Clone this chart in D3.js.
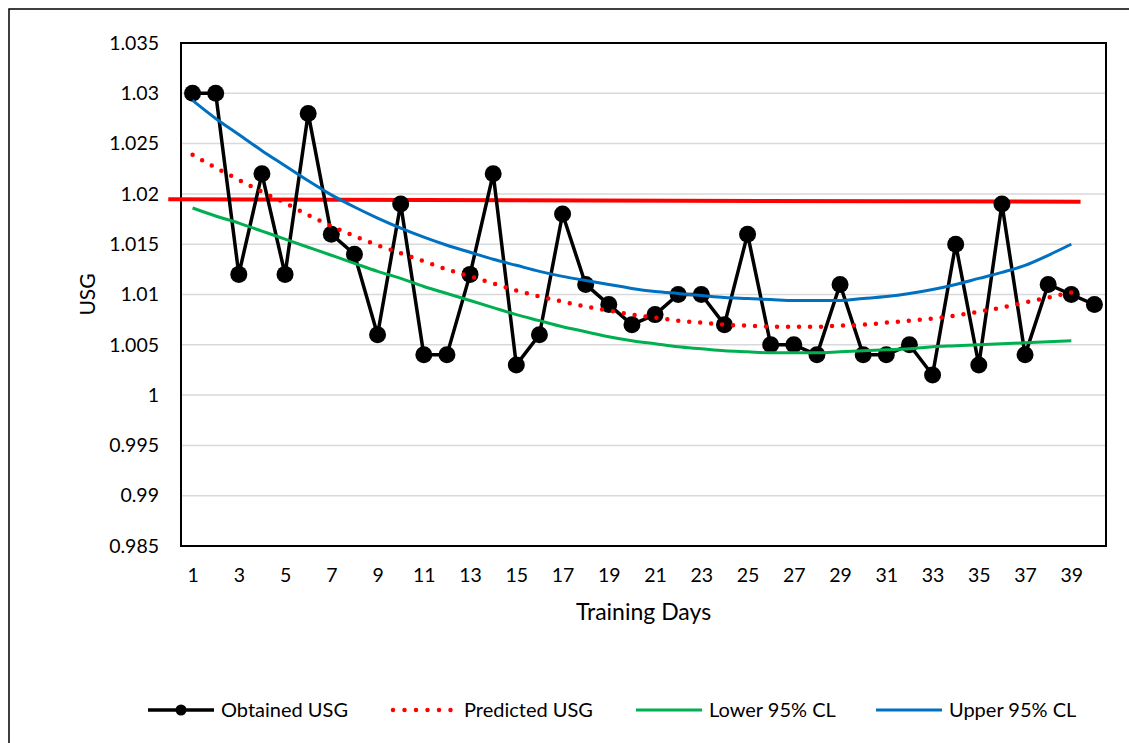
<!DOCTYPE html>
<html lang="en">
<head>
    <meta charset="UTF-8">
    <title>USG over Training Days</title>
    <style>
        body { margin: 0; background: #fff; }
        svg { display: block; font-family: Lato, "Open Sans", sans-serif; }
    </style>
</head>
<body>
    <div id="chart"></div>

    <script src="https://d3js.org/d3.v7.min.js"></script>
    <script>
        // values
        const days = d3.range(1, 41);
        const obtained = [1.030, 1.030, 1.012, 1.022, 1.012, 1.028, 1.016, 1.014, 1.006, 1.019,
                          1.004, 1.004, 1.012, 1.022, 1.003, 1.006, 1.018, 1.011, 1.009, 1.007,
                          1.008, 1.010, 1.010, 1.007, 1.016, 1.005, 1.005, 1.004, 1.011, 1.004,
                          1.004, 1.005, 1.002, 1.015, 1.003, 1.019, 1.004, 1.011, 1.010, 1.009];
        const predicted = [1.0239, 1.0226, 1.0214, 1.0202, 1.0191, 1.0179, 1.0168, 1.0158, 1.0149, 1.0141,
                           1.0133, 1.0125, 1.0118, 1.0111, 1.0104, 1.0098, 1.0093, 1.0088, 1.0084, 1.0080,
                           1.0077, 1.0074, 1.0072, 1.0070, 1.0069, 1.0068, 1.0068, 1.0068, 1.0069, 1.0070,
                           1.0072, 1.0074, 1.0076, 1.0079, 1.0083, 1.0087, 1.0092, 1.0097, 1.0102];
        const lowerCL = [1.0186, 1.0178, 1.0171, 1.0163, 1.0155, 1.0147, 1.0139, 1.0131, 1.0123, 1.0116,
                         1.0108, 1.0101, 1.0094, 1.0087, 1.0080, 1.0074, 1.0068, 1.0063, 1.0058, 1.0054,
                         1.0051, 1.0048, 1.0046, 1.0044, 1.0043, 1.0042, 1.0042, 1.0042, 1.0043, 1.0044,
                         1.0045, 1.0046, 1.0048, 1.0049, 1.0050, 1.0051, 1.0052, 1.0053, 1.0054];
        const upperCL = [1.0293, 1.0275, 1.0259, 1.0243, 1.0228, 1.0213, 1.0199, 1.0187, 1.0176, 1.0166,
                         1.0157, 1.0149, 1.0142, 1.0135, 1.0129, 1.0123, 1.0118, 1.0114, 1.0110, 1.0106,
                         1.0103, 1.0101, 1.0099, 1.0097, 1.0096, 1.0095, 1.0094, 1.0094, 1.0094, 1.0096,
                         1.0098, 1.0101, 1.0105, 1.0110, 1.0116, 1.0122, 1.0129, 1.0139, 1.0150];
        // the flat red reference line (its two ends)
        const limitDays = [-0.05, 39.4];
        const limitUSG = [1.01946, 1.01922];

        const yTicks = [0.985, 0.99, 0.995, 1, 1.005, 1.01, 1.015, 1.02, 1.025, 1.03, 1.035];
        const xTicks = d3.range(1, 41, 2);
        const seriesNames = ['Obtained USG', 'Predicted USG', 'Lower 95% CL', 'Upper 95% CL'];

        const w = 1129;
        const h = 743;
        const plot = {left: 181, top: 43, right: 1106, bottom: 546};
        const RED = '#ff0000', GREEN = '#00b050', BLUE = '#0070c0';

        const svg = d3.select('#chart')
            .append('svg')
            .attr('width', w)
            .attr('height', h);

        // outer chart frame
        svg.append('rect')
            .attr('x', 9).attr('y', 9)
            .attr('width', w + 20).attr('height', h + 20)
            .attr('fill', '#fff')
            .attr('stroke', '#000')
            .attr('stroke-width', 1.5);

        const xScale = d3.scaleLinear()
            .domain([0.5, 40.5])
            .range([plot.left, plot.right]);
        const yScale = d3.scaleLinear()
            .domain([0.985, 1.035])
            .range([plot.bottom, plot.top]);

        // gridlines
        svg.append('g')
            .selectAll('line')
            .data(yTicks.slice(1))
            .enter()
            .append('line')
            .attr('x1', plot.left)
            .attr('x2', plot.right)
            .attr('y1', d => yScale(d))
            .attr('y2', d => yScale(d))
            .attr('stroke', '#d9d9d9')
            .attr('stroke-width', 1.5);

        const yAxis = d3.axisLeft(yScale)
            .tickValues(yTicks)
            .tickFormat(d => String(+d.toFixed(3)))
            .tickSize(0)
            .tickPadding(22);
        const xAxis = d3.axisBottom(xScale)
            .tickValues(xTicks)
            .tickFormat(d3.format('d'))
            .tickSize(0)
            .tickPadding(22);

        const gy = svg.append('g')
            .attr('transform', `translate(${plot.left},0)`)
            .call(yAxis);
        const gx = svg.append('g')
            .attr('transform', `translate(0,${plot.bottom})`)
            .call(xAxis);
        [gx, gy].forEach(g => {
            g.select('.domain').remove();
            g.selectAll('text')
                .attr('fill', '#000')
                .style('font-size', '19.5px')
                .style('font-family', 'Lato, sans-serif');
        });

        // plot area border
        svg.append('rect')
            .attr('x', plot.left).attr('y', plot.top)
            .attr('width', plot.right - plot.left)
            .attr('height', plot.bottom - plot.top)
            .attr('fill', 'none')
            .attr('stroke', '#000')
            .attr('stroke-width', 2);

        // axis titles
        svg.append('text')
            .attr('x', (plot.left + plot.right) / 2)
            .attr('y', 620)
            .attr('text-anchor', 'middle')
            .style('font-size', '23px')
            .text('Training Days');
        svg.append('text')
            .attr('transform', `translate(95,${(plot.top + plot.bottom) / 2}) rotate(-90)`)
            .attr('text-anchor', 'middle')
            .style('font-size', '21px')
            .text('USG');

        // red reference line
        svg.append('line')
            .attr('x1', xScale(limitDays[0])).attr('y1', yScale(limitUSG[0]))
            .attr('x2', xScale(limitDays[1])).attr('y2', yScale(limitUSG[1]))
            .attr('stroke', RED)
            .attr('stroke-width', 4);

        // obtained series
        const straight = d3.line()
            .x((d, i) => xScale(days[i]))
            .y(d => yScale(d));
        const smooth = d3.line()
            .x((d, i) => xScale(days[i]))
            .y(d => yScale(d))
            .curve(d3.curveMonotoneX);

        svg.append('path')
            .attr('d', straight(obtained))
            .attr('fill', 'none')
            .attr('stroke', '#000')
            .attr('stroke-width', 3.5)
            .attr('stroke-linejoin', 'round');
        svg.append('g')
            .selectAll('circle')
            .data(obtained)
            .enter()
            .append('circle')
            .attr('cx', (d, i) => xScale(days[i]))
            .attr('cy', d => yScale(d))
            .attr('r', 8.5)
            .attr('fill', '#000');

        svg.append('path')
            .attr('d', smooth(predicted))
            .attr('fill', 'none')
            .attr('stroke', RED)
            .attr('stroke-width', 4.5)
            .attr('stroke-linecap', 'round')
            .attr('stroke-dasharray', '0 11');
        svg.append('path')
            .attr('d', smooth(lowerCL))
            .attr('fill', 'none')
            .attr('stroke', GREEN)
            .attr('stroke-width', 3);
        svg.append('path')
            .attr('d', smooth(upperCL))
            .attr('fill', 'none')
            .attr('stroke', BLUE)
            .attr('stroke-width', 3);

        // legend
        const legendX = [148, 391, 636, 876];
        const legendY = 710;
        const legendStyles = [
            {color: '#000', width: 3.5, dash: null, marker: true},
            {color: RED, width: 4.5, dash: '0 11.5', marker: false},
            {color: GREEN, width: 3, dash: null, marker: false},
            {color: BLUE, width: 3, dash: null, marker: false}
        ];
        const legend = svg.append('g')
            .selectAll('g')
            .data(seriesNames)
            .enter()
            .append('g')
            .attr('transform', (d, i) => `translate(${legendX[i]},${legendY})`);
        legend.append('line')
            .attr('x1', (d, i) => legendStyles[i].dash ? 2 : 0)
            .attr('x2', 66)
            .attr('stroke', (d, i) => legendStyles[i].color)
            .attr('stroke-width', (d, i) => legendStyles[i].width)
            .attr('stroke-linecap', (d, i) => legendStyles[i].dash ? 'round' : 'butt')
            .attr('stroke-dasharray', (d, i) => legendStyles[i].dash);
        legend.filter((d, i) => legendStyles[i].marker)
            .append('circle')
            .attr('cx', 33)
            .attr('r', 5.5)
            .attr('fill', '#000');
        legend.append('text')
            .attr('x', 73)
            .attr('dy', '0.35em')
            .style('font-size', '20px')
            .text(d => d);
    </script>
</body>
</html>
